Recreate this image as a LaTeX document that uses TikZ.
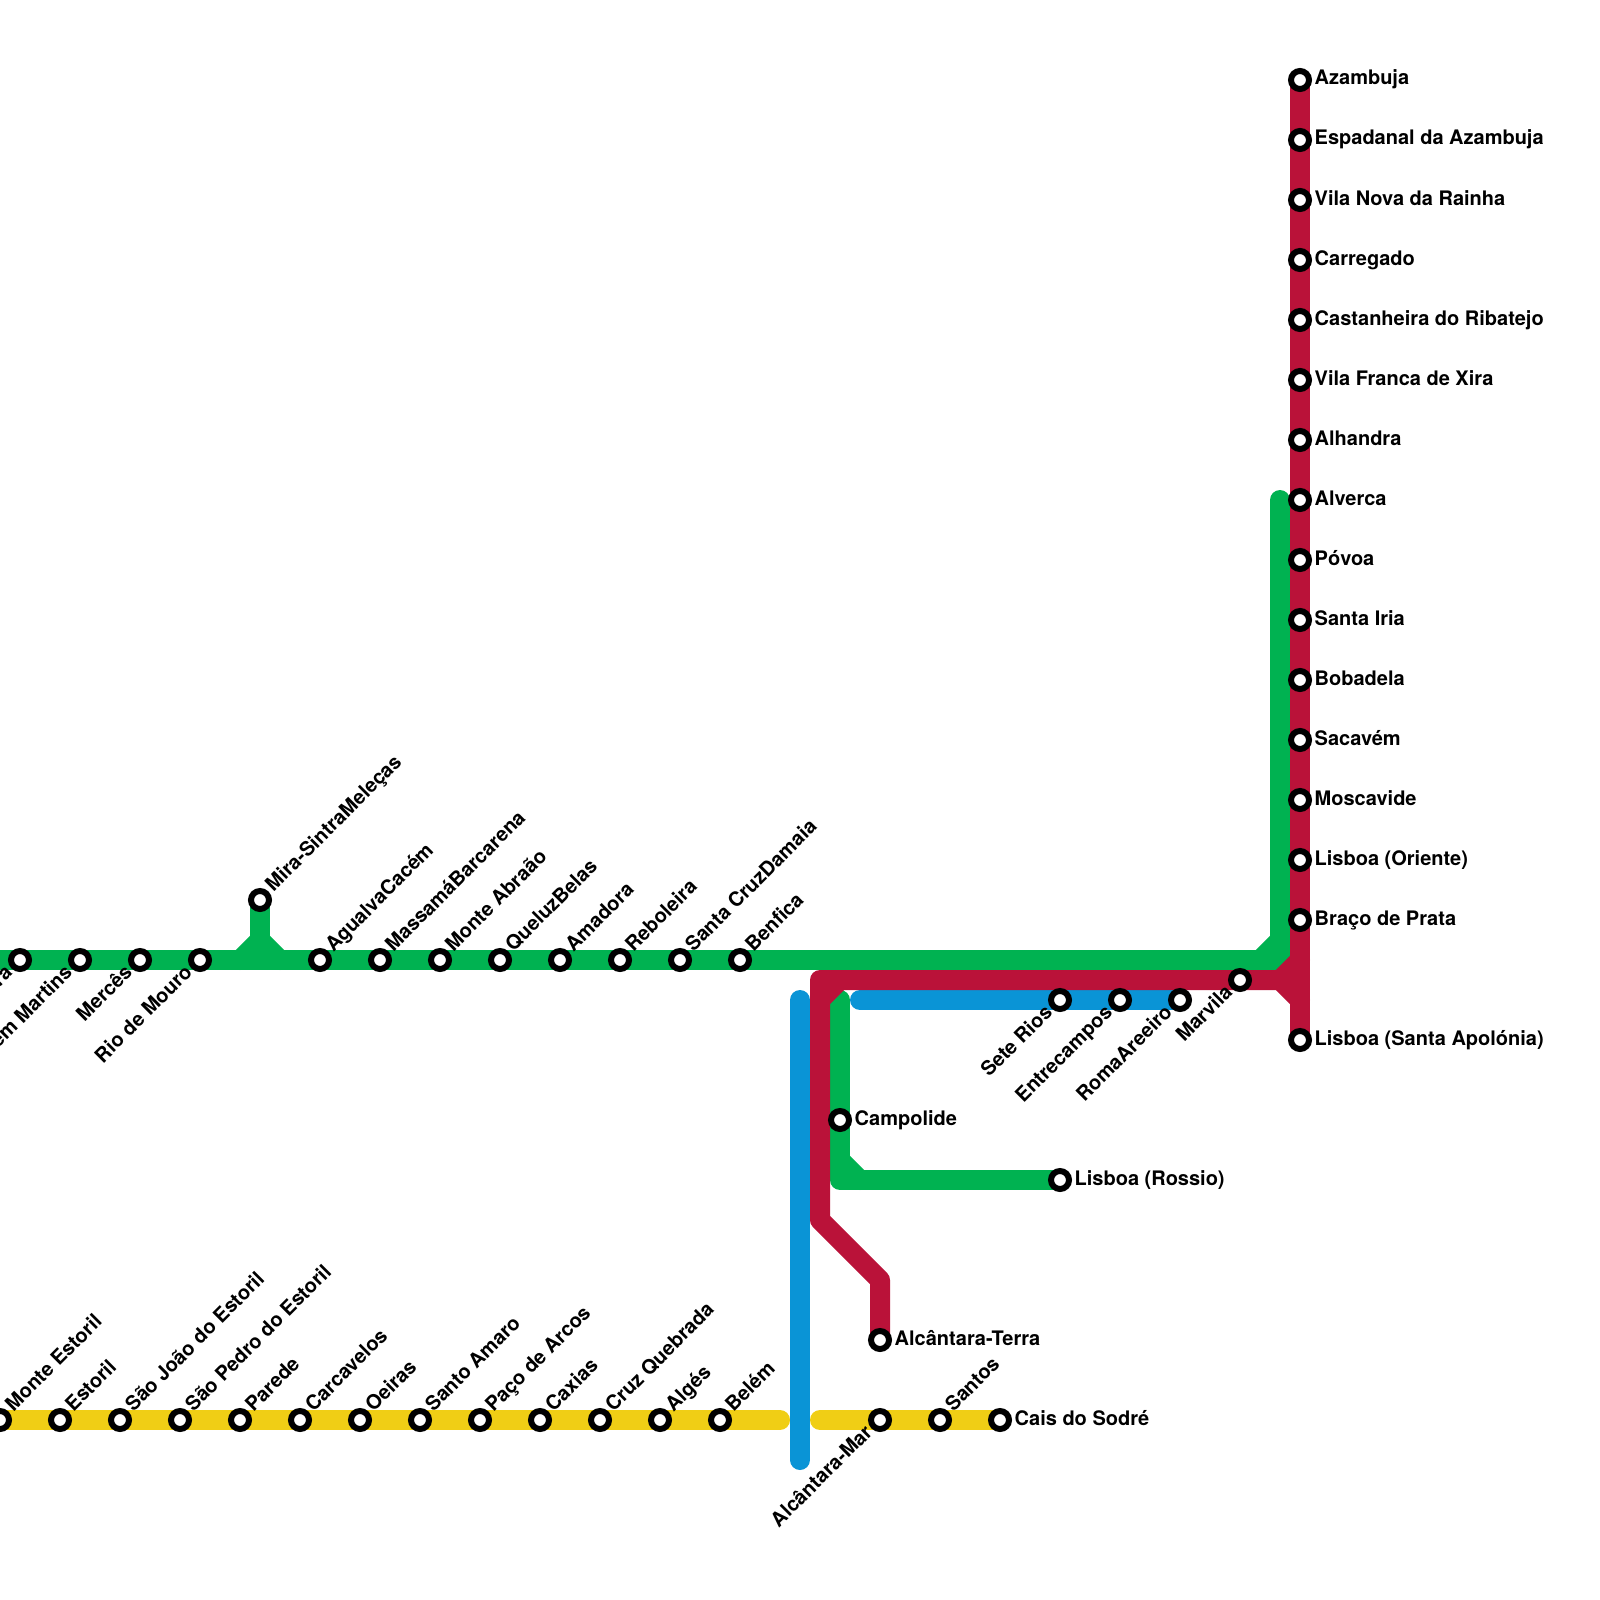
\documentclass[tikz,border=0pt]{standalone}
\usepackage{fontspec}
\setmainfont{TeX Gyre Heros}
\usepackage{xcolor}
\usetikzlibrary{positioning}
\definecolor{yellowline}{HTML}{F0CE15}
\definecolor{blueline}{HTML}{0A94D6}
\definecolor{greenline}{HTML}{00B251}
\definecolor{redline}{HTML}{BA1239}
\tikzset{
  base/.style={line width=20pt,line join=round},
  yellowl/.style={base,draw=yellowline,line cap=round},
  bluel/.style={base,draw=blueline,line cap=round},
  greenl/.style={base,draw=greenline,line cap=round},
  redl/.style={base,draw=redline,line cap=round},
  stn/.style={circle,draw=black,fill=white,line width=6pt,inner sep=0pt,minimum size=18pt},
  txt/.style={font=\fontsize{20}{22}\selectfont\bfseries,inner sep=0pt,text=black},
  lright/.style={txt,anchor=base west,shift={(14.5pt,-5pt)}},
  lup/.style={txt,shift={(13.5pt,7.5pt)},rotate=45,anchor=base west},
  ldown/.style={txt,shift={(-6.5pt,-13.5pt)},rotate=45,anchor=base east}
}
\begin{document}
\begin{tikzpicture}[x=1pt,y=-1pt]
\useasboundingbox (0,0) rectangle (1600,1600);

% stations, red line north
\coordinate (azambuja) at (1300,80);
\coordinate (alverca) at (1300,500);
\coordinate (apolonia) at (1300,1040);
\coordinate (alvercag) at (1280,500);
\coordinate (gturn) at (1280,960);
\coordinate (gturna) at (1260,960);
\coordinate (gturnb) at (1280,940);
\coordinate (rjoin) at (1280,980);
\coordinate (rjoina) at (1300,960);
\coordinate (rjoinb) at (1300,1000);
\coordinate (rcorner) at (820,980);
\coordinate (rcornera) at (840,980);
\coordinate (rcornerb) at (820,1000);
\coordinate (rbend) at (820,1220);
\coordinate (rbendb) at (880,1280);
\coordinate (alcterra) at (880,1340);
\coordinate (gwest) at (-20,960);
\coordinate (mira) at (260,900);
\coordinate (mirab) at (260,940);
\coordinate (miraa) at (240,960);
\coordinate (mirac) at (280,960);
\coordinate (gtop) at (840,1000);
\coordinate (gcorner) at (840,1180);
\coordinate (gcornera) at (840,1160);
\coordinate (gcornerb) at (860,1180);
\coordinate (rossio) at (1060,1180);
\coordinate (bwest) at (860,1000);
\coordinate (roma) at (1180,1000);
\coordinate (bnorth) at (800,1000);
\coordinate (bsouth) at (800,1460);
\coordinate (ywest) at (-20,1420);
\coordinate (yeast) at (780,1420);
\coordinate (ywestb) at (820,1420);
\coordinate (cais) at (1000,1420);

% lines
\draw[yellowl] (ywest) -- (yeast);
\draw[yellowl] (ywestb) -- (cais);
\draw[bluel] (bnorth) -- (bsouth);
\draw[bluel] (bwest) -- (roma);
\draw[greenl] (gwest) -- (gturn) -- (alvercag);
\draw[greenl] (gturna) -- (gturnb);
\draw[greenl] (mira) -- (mirab);
\draw[greenl] (miraa) -- (mirab) -- (mirac);
\draw[greenl] (gtop) -- (gcorner) -- (rossio);
\draw[greenl] (gcornera) -- (gcornerb);
\draw[redl] (azambuja) -- (apolonia);
\draw[redl] (rjoina) -- (rjoin) -- (rjoinb);
\draw[redl] (rjoin) -- (rcorner) -- (rbend) -- (rbendb) -- (alcterra);
\draw[redl] (rcornera) -- (rcornerb);

% red line
\node[stn] (sazambuja) at (azambuja) {};
\node[lright] (tazambuja) at (sazambuja) {Azambuja};
\node[stn] (sespadanal) at (1300,140) {};
\node[lright] (tespadanal) at (sespadanal) {Espadanal da Azambuja};
\node[stn] (svilanova) at (1300,200) {};
\node[lright] (tvilanova) at (svilanova) {Vila Nova da Rainha};
\node[stn] (scarregado) at (1300,260) {};
\node[lright] (tcarregado) at (scarregado) {Carregado};
\node[stn] (scastanheira) at (1300,320) {};
\node[lright] (tcastanheira) at (scastanheira) {Castanheira do Ribatejo};
\node[stn] (svilafranca) at (1300,380) {};
\node[lright] (tvilafranca) at (svilafranca) {Vila Franca de Xira};
\node[stn] (salhandra) at (1300,440) {};
\node[lright] (talhandra) at (salhandra) {Alhandra};
\node[stn] (salverca) at (alverca) {};
\node[lright] (talverca) at (salverca) {Alverca};
\node[stn] (spovoa) at (1300,560) {};
\node[lright] (tpovoa) at (spovoa) {Póvoa};
\node[stn] (ssantairia) at (1300,620) {};
\node[lright] (tsantairia) at (ssantairia) {Santa Iria};
\node[stn] (sbobadela) at (1300,680) {};
\node[lright] (tbobadela) at (sbobadela) {Bobadela};
\node[stn] (ssacavem) at (1300,740) {};
\node[lright] (tsacavem) at (ssacavem) {Sacavém};
\node[stn] (smoscavide) at (1300,800) {};
\node[lright] (tmoscavide) at (smoscavide) {Moscavide};
\node[stn] (soriente) at (1300,860) {};
\node[lright] (toriente) at (soriente) {Lisboa (Oriente)};
\node[stn] (sbraco) at (1300,920) {};
\node[lright] (tbraco) at (sbraco) {Braço de Prata};
\node[stn] (sapolonia) at (apolonia) {};
\node[lright] (tapolonia) at (sapolonia) {Lisboa (Santa Apolónia)};
\node[stn] (smarvila) at (1240,980) {};
\node[ldown] (tmarvila) at (smarvila) {Marvila};
\node[stn] (sroma) at (roma) {};
\node[ldown] (troma) at (sroma) {RomaAreeiro};
\node[stn] (sentrecampos) at (1120,1000) {};
\node[ldown] (tentrecampos) at (sentrecampos) {Entrecampos};
\node[stn] (ssete) at (1060,1000) {};
\node[ldown] (tsete) at (ssete) {Sete Rios};
\node[stn] (scampolide) at (840,1120) {};
\node[lright] (tcampolide) at (scampolide) {Campolide};
\node[stn] (srossio) at (rossio) {};
\node[lright] (trossio) at (srossio) {Lisboa (Rossio)};
\node[stn] (salcterra) at (alcterra) {};
\node[lright] (talcterra) at (salcterra) {Alcântara-Terra};

% green line
\node[stn] (sportela) at (20,960) {};
\node[ldown] (tportela) at (sportela) {Portela de Sintra};
\node[stn] (salgueirao) at (80,960) {};
\node[ldown] (talgueirao) at (salgueirao) {Algueirão-Mem Martins};
\node[stn] (smerces) at (140,960) {};
\node[ldown] (tmerces) at (smerces) {Mercês};
\node[stn] (smouro) at (200,960) {};
\node[ldown] (tmouro) at (smouro) {Rio de Mouro};
\node[stn] (smira) at (mira) {};
\node[lup] (tmira) at (smira) {Mira-SintraMeleças};
\node[stn] (sagualva) at (320,960) {};
\node[lup] (tagualva) at (sagualva) {AgualvaCacém};
\node[stn] (smassama) at (380,960) {};
\node[lup] (tmassama) at (smassama) {MassamáBarcarena};
\node[stn] (sabraao) at (440,960) {};
\node[lup] (tabraao) at (sabraao) {Monte Abraão};
\node[stn] (squeluz) at (500,960) {};
\node[lup] (tqueluz) at (squeluz) {QueluzBelas};
\node[stn] (samadora) at (560,960) {};
\node[lup] (tamadora) at (samadora) {Amadora};
\node[stn] (sreboleira) at (620,960) {};
\node[lup] (treboleira) at (sreboleira) {Reboleira};
\node[stn] (sdamaia) at (680,960) {};
\node[lup] (tdamaia) at (sdamaia) {Santa CruzDamaia};
\node[stn] (sbenfica) at (740,960) {};
\node[lup] (tbenfica) at (sbenfica) {Benfica};

% yellow line
\node[stn] (smonte) at (0,1420) {};
\node[lup] (tmonte) at (smonte) {Monte Estoril};
\node[stn] (sestoril) at (60,1420) {};
\node[lup] (testoril) at (sestoril) {Estoril};
\node[stn] (ssaojoao) at (120,1420) {};
\node[lup] (tsaojoao) at (ssaojoao) {São João do Estoril};
\node[stn] (ssaopedro) at (180,1420) {};
\node[lup] (tsaopedro) at (ssaopedro) {São Pedro do Estoril};
\node[stn] (sparede) at (240,1420) {};
\node[lup] (tparede) at (sparede) {Parede};
\node[stn] (scarcavelos) at (300,1420) {};
\node[lup] (tcarcavelos) at (scarcavelos) {Carcavelos};
\node[stn] (soeiras) at (360,1420) {};
\node[lup] (toeiras) at (soeiras) {Oeiras};
\node[stn] (samaro) at (420,1420) {};
\node[lup] (tamaro) at (samaro) {Santo Amaro};
\node[stn] (sarcos) at (480,1420) {};
\node[lup] (tarcos) at (sarcos) {Paço de Arcos};
\node[stn] (scaxias) at (540,1420) {};
\node[lup] (tcaxias) at (scaxias) {Caxias};
\node[stn] (squebrada) at (600,1420) {};
\node[lup] (tquebrada) at (squebrada) {Cruz Quebrada};
\node[stn] (salges) at (660,1420) {};
\node[lup] (talges) at (salges) {Algés};
\node[stn] (sbelem) at (720,1420) {};
\node[lup] (tbelem) at (sbelem) {Belém};
\node[stn] (salcmar) at (880,1420) {};
\node[ldown] (talcmar) at (salcmar) {Alcântara-Mar};
\node[stn] (ssantos) at (940,1420) {};
\node[lup] (tsantos) at (ssantos) {Santos};
\node[stn] (scais) at (cais) {};
\node[lright] (tcais) at (scais) {Cais do Sodré};
\end{tikzpicture}
\end{document}
